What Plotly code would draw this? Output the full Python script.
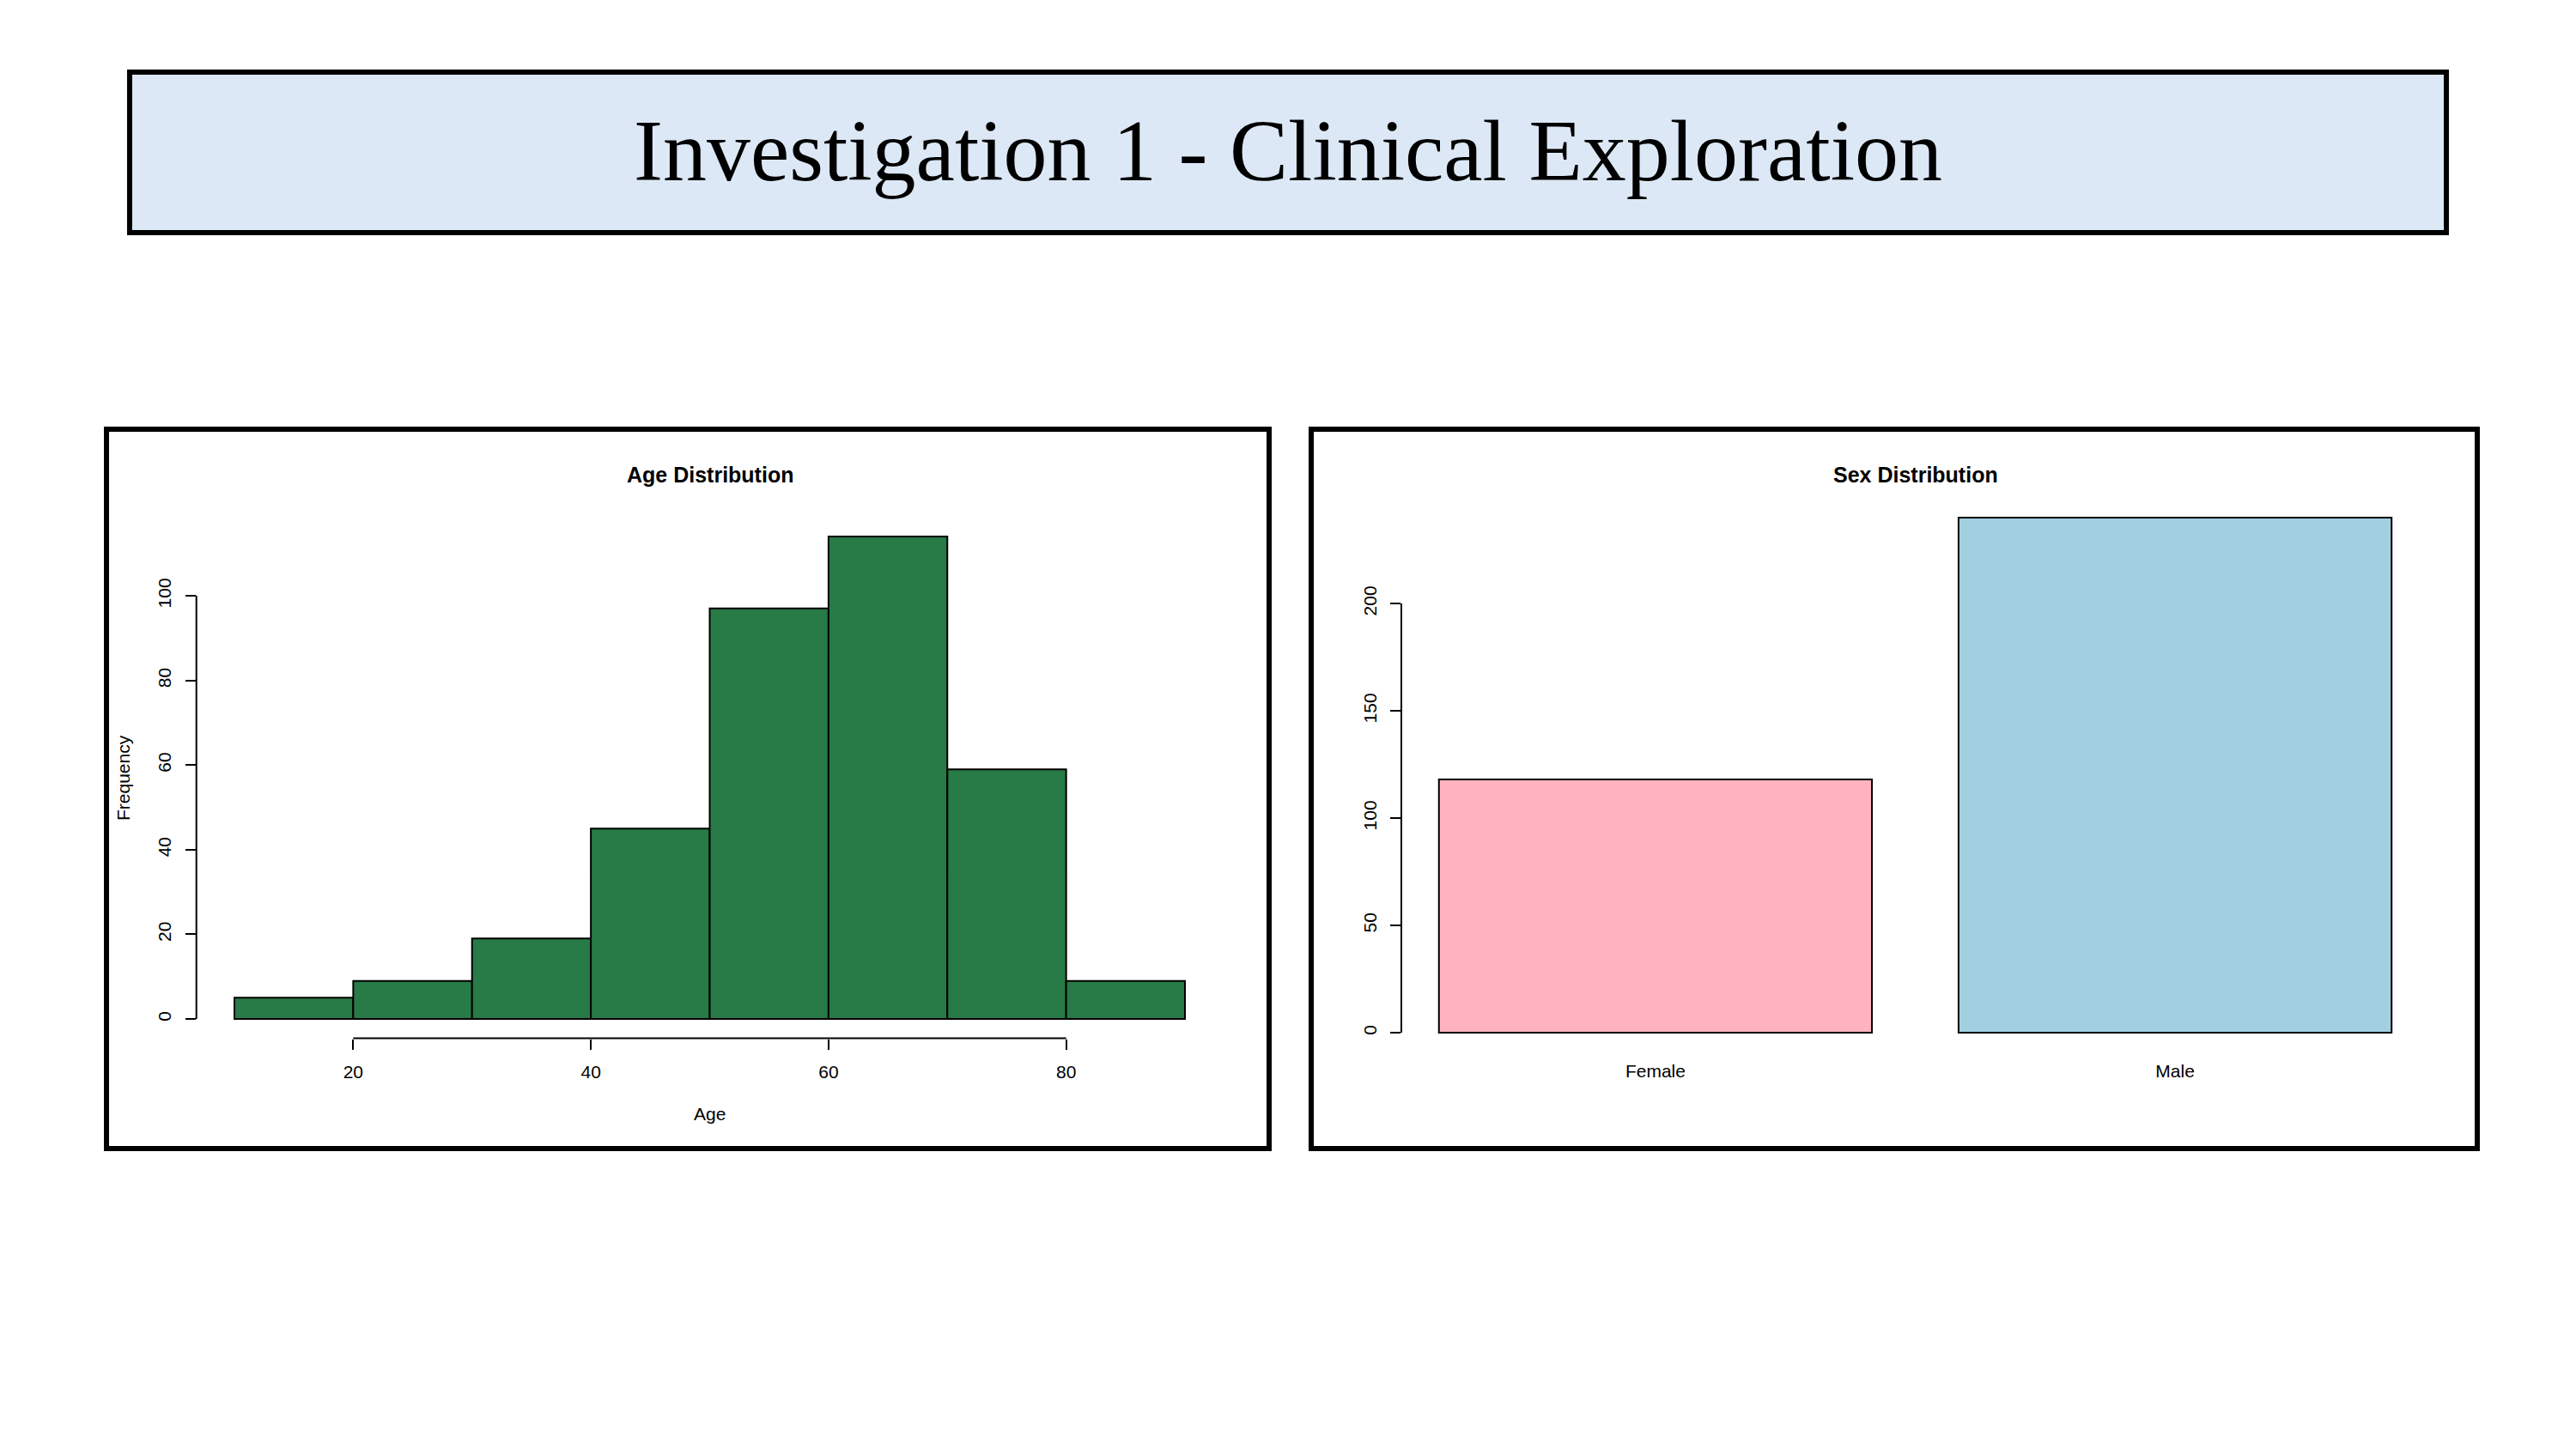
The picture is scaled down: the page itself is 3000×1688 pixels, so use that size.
# Investigation 1 - clinical exploration: age histogram + sex bar chart
import plotly.graph_objects as go

# Data
age_edges = [10, 20, 30, 40, 50, 60, 70, 80, 90]
age_counts = [5, 9, 19, 45, 97, 114, 59, 9]
age_ticks = [20, 40, 60, 80]
freq_ticks = [0, 20, 40, 60, 80, 100]

sex_labels = ["Female", "Male"]
sex_counts = [118, 240]
sex_colors = ["#FFB3C1", "#A2D0E1"]
sex_ticks = [0, 50, 100, 150, 200]

W, H = 3000, 1688
FONT = "Liberation Sans"


def px(x):
    return x / W


def py(y):
    return 1 - y / H


# Bin centres and widths from edges
age_mid = [(a + b) / 2 for a, b in zip(age_edges[:-1], age_edges[1:])]
age_w = [b - a for a, b in zip(age_edges[:-1], age_edges[1:])]

fig = go.Figure()

fig.add_trace(go.Bar(
    x=age_mid, y=age_counts, width=age_w,
    marker={"color": "#287A46", "line": {"color": "black", "width": 2}},
    xaxis="x", yaxis="y", hoverinfo="x+y",
))

fig.add_trace(go.Bar(
    x=sex_labels, y=sex_counts, width=1 / 1.2,
    marker={"color": sex_colors, "line": {"color": "black", "width": 2}},
    xaxis="x2", yaxis="y2",
))

tick_font = {"family": FONT, "size": 21, "color": "black"}
ax_common = dict(showgrid=False, zeroline=False, showline=False,
                 ticks="outside", ticklen=12, tickwidth=2, tickcolor="black",
                 tickfont=tick_font, fixedrange=True)

fig.update_layout(
    width=W, height=H,
    margin={"l": 0, "r": 0, "t": 0, "b": 0},
    paper_bgcolor="white", plot_bgcolor="white",
    showlegend=False,
    xaxis=dict(ax_common, domain=[px(228.7), px(1424.3)], range=[6.8, 93.2],
               tickvals=age_ticks, anchor="y", ticklabelstandoff=8),
    yaxis=dict(ax_common, domain=[py(1209.5), py(602.5)], range=[-4.56, 118.56],
               tickvals=freq_ticks, tickangle=-90, anchor="x",
               ticklabelstandoff=8),
    xaxis2=dict(ax_common, domain=[px(1632), px(2829)], range=[-0.489, 1.489],
                type="category", ticklen=2, tickcolor="rgba(0,0,0,0)", anchor="y2"),
    yaxis2=dict(ax_common, domain=[py(1227), py(579)], range=[-9.6, 249.6],
                tickvals=sex_ticks, tickangle=-90, anchor="x2",
                ticklabelstandoff=8),
)

# R-style axis lines spanning only the tick range
fig.add_shape(type="line", xref="x domain", yref="y", x0=0, x1=0,
              y0=min(freq_ticks), y1=max(freq_ticks), line={"color": "black", "width": 2})
fig.add_shape(type="line", xref="x", yref="y domain", y0=0, y1=0,
              x0=min(age_ticks), x1=max(age_ticks), line={"color": "black", "width": 2})
fig.add_shape(type="line", xref="x2 domain", yref="y2", x0=0, x1=0,
              y0=min(sex_ticks), y1=max(sex_ticks), line={"color": "black", "width": 2})

# Title box and panel frames
fig.add_shape(type="rect", xref="paper", yref="paper",
              x0=px(151), x1=px(2849), y0=py(271), y1=py(84),
              fillcolor="#DCE8F5", line={"color": "black", "width": 6}, layer="below")
for x0, x1 in [(124, 1478), (1527, 2885)]:
    fig.add_shape(type="rect", xref="paper", yref="paper",
                  x0=px(x0), x1=px(x1), y0=py(1338), y1=py(500),
                  line={"color": "black", "width": 6})


def label(text, x, y, font, angle=0):
    fig.add_annotation(text=text, x=px(x), y=py(y), xref="paper", yref="paper",
                       xanchor="center", yanchor="middle", showarrow=False,
                       textangle=angle, font=font)


# Texts
label("Investigation 1 - Clinical Exploration", 1500, 176,
      {"family": "Liberation Serif", "size": 102, "color": "black"})
title_font = {"family": FONT, "size": 25, "color": "black"}
label("<b>Age Distribution</b>", 826.5, 553, title_font)
label("<b>Sex Distribution</b>", 2230.5, 553, title_font)
label("Age", 826.5, 1297, tick_font)
label("Frequency", 143, 906, tick_font, angle=-90)

fig.write_html("out.html", config={"displayModeBar": False},
               post_script="document.body.style.margin='0';")
